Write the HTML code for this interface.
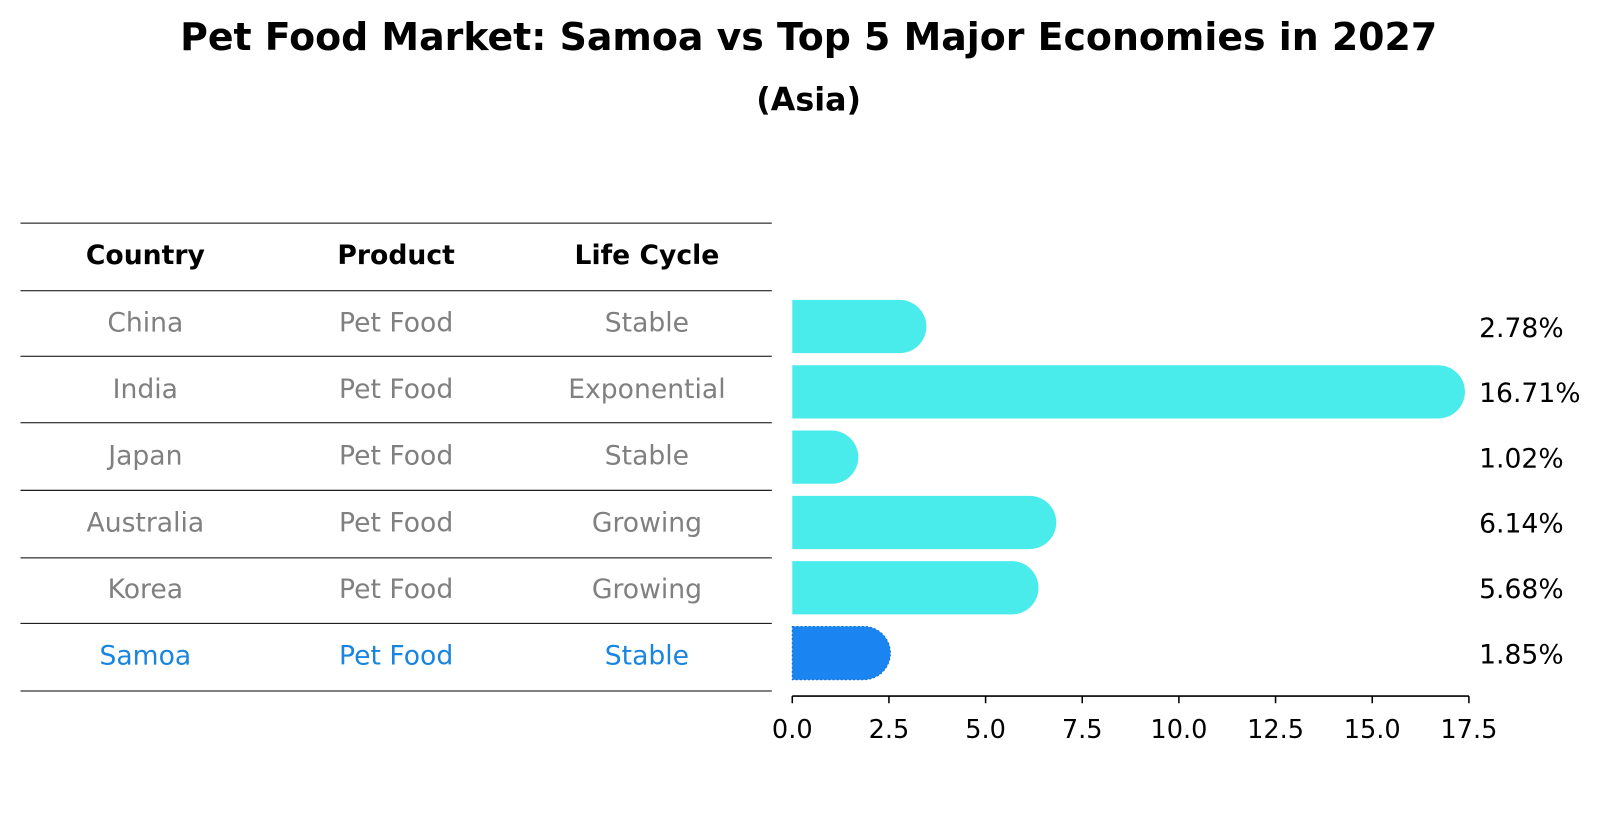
<!DOCTYPE html>
<html><head><meta charset="utf-8"><style>
body{margin:0;background:#fff;font-family:"Liberation Sans","DejaVu Sans",sans-serif;}
svg{display:block}
</style></head><body>
<svg width="1604" height="823" viewBox="0 0 1567 804" preserveAspectRatio="none" xmlns="http://www.w3.org/2000/svg" font-family="DejaVu Sans, Liberation Sans, sans-serif">
<text x="790" y="49" text-anchor="middle" font-size="37" font-weight="bold">Pet Food Market: Samoa vs Top 5 Major Economies in 2027</text>
<text x="790" y="108" text-anchor="middle" font-size="31" font-weight="bold">(Asia)</text>
<g id="table"></g>
<g id="bars"></g>
</svg>
<script>
const countries=["China","India","Japan","Australia","Korea","Samoa"];
const products=["Pet Food","Pet Food","Pet Food","Pet Food","Pet Food","Pet Food"];
const lifecycles=["Stable","Exponential","Stable","Growing","Growing","Stable"];
const values=[2.78,16.71,1.02,6.14,5.68,1.85];
const ticks=[0,2.5,5,7.5,10,12.5,15,17.5];
const NS="http://www.w3.org/2000/svg";
function mk(tag,attrs,parent){const e=document.createElementNS(NS,tag);for(const k in attrs)e.setAttribute(k,attrs[k]);parent.appendChild(e);return e;}
const tbl=document.getElementById('table'),bars=document.getElementById('bars');
const x0=774,xs=(1435-774)/17.5;
const X=v=>x0+v*xs;
const textY=i=>315+i*65;
const barY=i=>319+i*63.8;
const lineYs=[218,284,348,413,479,545,609,675];
lineYs.forEach(y=>{const l=mk('line',{x1:20,x2:754,y1:y,y2:y,stroke:'#000','stroke-width':1},tbl);

});
const cols=[142,387,632];
["Country","Product","Life Cycle"].forEach((h,j)=>{const t=mk('text',{x:cols[j],y:258,'text-anchor':'middle','font-size':26,'font-weight':'bold'},tbl);t.textContent=h;

});
countries.forEach((c,i)=>{
 const col=c==="Samoa"?"#1a85e0":"#808080";
 [c,products[i],lifecycles[i]].forEach((s,j)=>{const t=mk('text',{x:cols[j],y:textY(i)+9,'text-anchor':'middle','font-size':26,fill:col},tbl);t.textContent=s;
 
 });
 const h=52,r=26,cy=barY(i),xe=X(values[i]);
 const fill=c==="Samoa"?"#1a85f0":"#4aeceb";
 const p=mk('path',{d:`M${x0},${cy-h/2} H${xe} A${r},${r} 0 0 1 ${xe},${cy+h/2} H${x0} Z`,fill:fill},bars);
 if(c==="Samoa"){p.setAttribute('stroke','#1570d0');p.setAttribute('stroke-dasharray','2,2');}
 
 
 const t=mk('text',{x:1445,y:cy+10,'font-size':26},bars);t.textContent=values[i].toFixed(2)+"%";
 
 
});
const ax=mk('line',{x1:x0,x2:X(17.5),y1:680,y2:680,stroke:'#000','stroke-width':1.5},bars);


ticks.forEach(v=>{const l=mk('line',{x1:X(v),x2:X(v),y1:680,y2:687,stroke:'#000','stroke-width':1.5},bars);


const t=mk('text',{x:X(v),y:721,'text-anchor':'middle','font-size':25},bars);t.textContent=v.toFixed(1);

});
</script>
</body></html>
